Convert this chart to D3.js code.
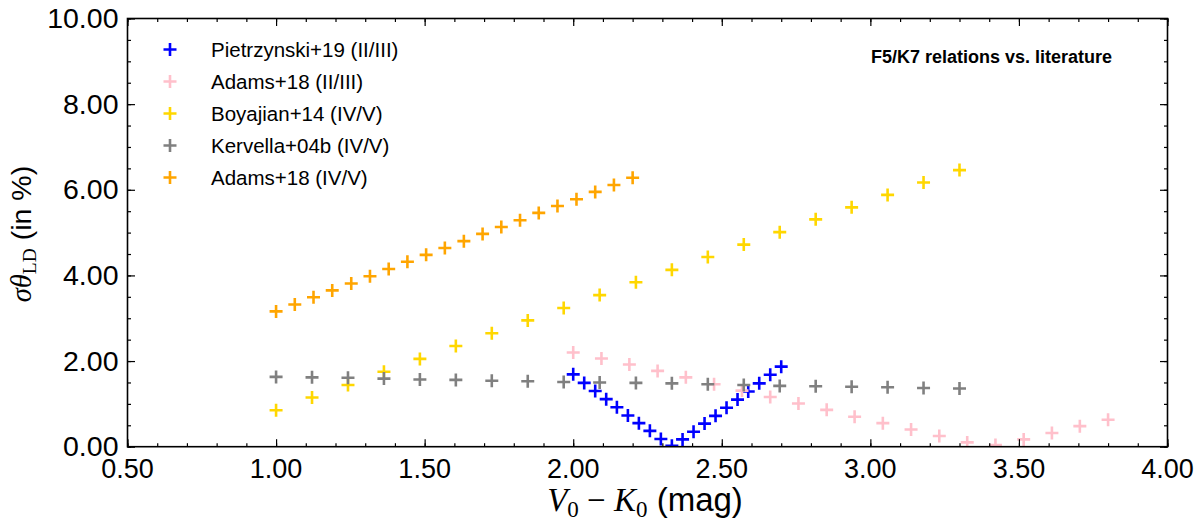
<!DOCTYPE html>
<html><head><meta charset="utf-8">
<script src="https://cdn.jsdelivr.net/npm/d3@7"></script>
<style>
body{margin:0;background:#fff;}
text{font-family:"Liberation Sans",Arial,Helvetica,sans-serif;}
</style></head>
<body><svg id="chart" width="1200" height="521"></svg>
<script>
// ---- data ----
const seriesNames = ["Pietrzynski+19 (II/III)","Adams+18 (II/III)","Boyajian+14 (IV/V)","Kervella+04b (IV/V)","Adams+18 (IV/V)"];
const seriesColors = ["#0000ff","#ffc0cb","#ffd700","#808080","#ffa500"];

const xPietrzynski = [2.000,2.037,2.074,2.111,2.147,2.184,2.221,2.258,2.295,2.332,2.368,2.405,2.442,2.479,2.516,2.553,2.589,2.626,2.663,2.700];
const yPietrzynski = [1.69,1.49,1.30,1.11,0.92,0.73,0.55,0.37,0.18,0.02,0.17,0.35,0.54,0.72,0.91,1.10,1.29,1.48,1.68,1.87];

const xAdamsGiants = [2.000,2.095,2.189,2.284,2.379,2.474,2.568,2.663,2.758,2.853,2.947,3.042,3.137,3.232,3.326,3.421,3.516,3.611,3.705,3.800];
const yAdamsGiants = [2.20,2.06,1.92,1.77,1.62,1.46,1.31,1.16,1.01,0.86,0.70,0.55,0.40,0.25,0.10,0.04,0.17,0.32,0.48,0.63];

const xBoyajian = [1.000,1.121,1.242,1.363,1.484,1.605,1.726,1.847,1.968,2.089,2.211,2.332,2.453,2.574,2.695,2.816,2.937,3.058,3.179,3.300];
const yBoyajian = [0.85,1.15,1.44,1.75,2.05,2.35,2.65,2.95,3.24,3.54,3.84,4.13,4.43,4.72,5.01,5.31,5.59,5.88,6.17,6.46];

const xKervella = [1.000,1.121,1.242,1.363,1.484,1.605,1.726,1.847,1.968,2.089,2.211,2.332,2.453,2.574,2.695,2.816,2.937,3.058,3.179,3.300];
const yKervella = [1.63,1.62,1.61,1.59,1.57,1.56,1.54,1.53,1.51,1.50,1.49,1.48,1.46,1.44,1.42,1.41,1.40,1.39,1.37,1.36];

const xAdamsDwarfs = [1.000,1.063,1.126,1.189,1.253,1.316,1.379,1.442,1.505,1.568,1.632,1.695,1.758,1.821,1.884,1.947,2.011,2.074,2.137,2.200];
const yAdamsDwarfs = [3.16,3.32,3.49,3.65,3.81,3.98,4.15,4.32,4.48,4.64,4.80,4.97,5.13,5.29,5.46,5.62,5.78,5.95,6.11,6.28];

const xTicks = [0.5,1.0,1.5,2.0,2.5,3.0,3.5,4.0];
const yTicks = [0,2,4,6,8,10];
const titleText = "F5/K7 relations vs. literature";

// ---- build ----
const seriesX = [xPietrzynski,xAdamsGiants,xBoyajian,xKervella,xAdamsDwarfs];
const seriesY = [yPietrzynski,yAdamsGiants,yBoyajian,yKervella,yAdamsDwarfs];
const series = seriesNames.map((n,i)=>({name:n,color:seriesColors[i],pts:seriesX[i].map((x,j)=>({x,y:seriesY[i][j]}))}));

const L=127.5,R=1167.5,T=18.5,B=446.7;
const svg=d3.select("#chart");
const x=d3.scaleLinear().domain([0.5,4.0]).range([L,R]);
const y=d3.scaleLinear().domain([0,10]).range([B,T]);

svg.append("defs").append("clipPath").attr("id","clip").append("rect")
  .attr("x",L).attr("y",T).attr("width",R-L).attr("height",B-T);

const plus="M-6.5,0H6.5M0,-6.5V6.5";
const g=svg.append("g").attr("clip-path","url(#clip)");
series.forEach(s=>{
  g.append("g").selectAll("path").data(s.pts).join("path")
    .attr("d",plus).attr("transform",d=>`translate(${x(d.x)},${y(d.y)})`)
    .attr("stroke",s.color).attr("stroke-width",2.6).attr("fill","none");
});

// axes with inward ticks
const xMinor=d3.range(5,41).map(v=>v/10);
const yMinor=d3.range(0,21).map(v=>v/2);
function ax(axisFn,scale,ticks,size){return axisFn(scale).tickValues(ticks).tickSize(size).tickFormat("");}
const fmt=d3.format(".2f");
const noDom=g=>g.select(".domain").remove();
svg.append("g").attr("transform",`translate(0,${B})`).call(ax(d3.axisTop,x,xMinor,3.5)).call(noDom);
svg.append("g").attr("transform",`translate(0,${B})`).call(ax(d3.axisTop,x,xTicks,7.5)).call(noDom);
svg.append("g").attr("transform",`translate(0,${T})`).call(ax(d3.axisBottom,x,xMinor,3.5)).call(noDom);
svg.append("g").attr("transform",`translate(0,${T})`).call(ax(d3.axisBottom,x,xTicks,7.5)).call(noDom);
svg.append("g").attr("transform",`translate(${L},0)`).call(ax(d3.axisRight,y,yMinor,3.5)).call(noDom);
svg.append("g").attr("transform",`translate(${L},0)`).call(ax(d3.axisRight,y,yTicks,7.5)).call(noDom);
svg.append("g").attr("transform",`translate(${R},0)`).call(ax(d3.axisLeft,y,yMinor,3.5)).call(noDom);
svg.append("g").attr("transform",`translate(${R},0)`).call(ax(d3.axisLeft,y,yTicks,7.5)).call(noDom);
svg.selectAll(".tick line").attr("stroke","#000").attr("stroke-width",1.2);
svg.selectAll(".tick text").remove();

svg.append("rect").attr("x",L).attr("y",T).attr("width",R-L).attr("height",B-T)
  .attr("fill","none").attr("stroke","#000").attr("stroke-width",1.6);

// tick labels
svg.append("g").selectAll("text").data(xTicks).join("text")
  .attr("x",d=>x(d)).attr("y",B+31).attr("text-anchor","middle")
  .attr("font-size",27).attr("fill","#000").text(d=>fmt(d));
svg.append("g").selectAll("text").data(yTicks).join("text")
  .attr("x",L-9).attr("y",d=>y(d)+9.5).attr("text-anchor","end")
  .attr("font-size",28.5).attr("fill","#000").text(d=>fmt(d));

// axis labels
const serif='"Liberation Serif",serif';
const xl=svg.append("text").attr("x",645).attr("y",511).attr("text-anchor","middle").attr("font-size",33).attr("fill","#000");
xl.append("tspan").attr("font-family",serif).attr("font-style","italic").text("V");
xl.append("tspan").attr("font-family",serif).attr("font-size",23).attr("dy",6).text("0");
xl.append("tspan").attr("font-family",serif).attr("dy",-6).text(" − ");
xl.append("tspan").attr("font-family",serif).attr("font-style","italic").text("K");
xl.append("tspan").attr("font-family",serif).attr("font-size",23).attr("dy",6).text("0");
xl.append("tspan").attr("dy",-6).text(" (mag)");

const yl=svg.append("text").attr("transform",`translate(31,234) rotate(-90)`).attr("text-anchor","middle").attr("font-size",28.5).attr("fill","#000");
yl.append("tspan").attr("font-family",serif).attr("font-style","italic").text("σθ");
yl.append("tspan").attr("font-family",serif).attr("font-size",19.5).attr("dy",5).text("LD");
yl.append("tspan").attr("dy",-5).text(" (in %)");

// legend
const lg=svg.append("g");
series.forEach((s,i)=>{
  const yy=49.5+i*32;
  lg.append("path").attr("d",plus).attr("transform",`translate(170,${yy})`).attr("stroke",s.color).attr("stroke-width",2.6).attr("fill","none");
  lg.append("text").attr("x",211).attr("y",yy+7).attr("font-size",20.5).attr("fill","#000").text(s.name);
});

// title annotation
svg.append("text").attr("x",871).attr("y",62.5).attr("font-size",18).attr("font-weight","bold").attr("fill","#000").text(titleText);
</script></body></html>
